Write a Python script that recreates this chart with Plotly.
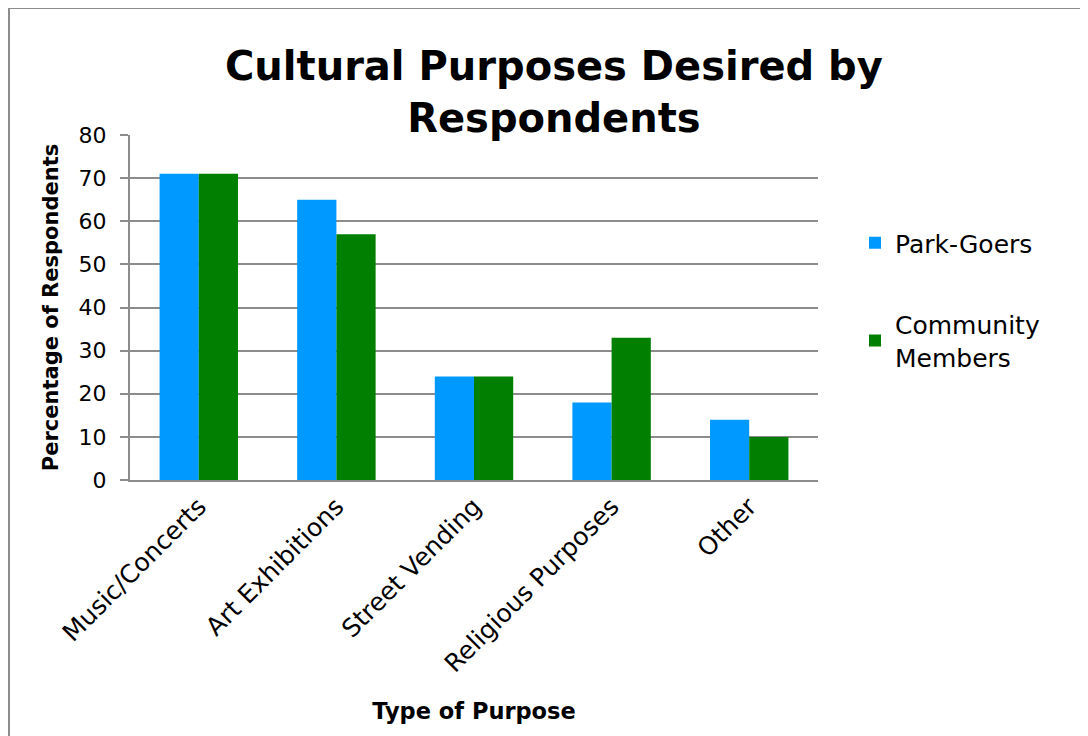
import plotly.graph_objects as go

categories = ["Music/Concerts", "Art Exhibitions", "Street Vending", "Religious Purposes", "Other"]
park_goers = [71, 65, 24, 18, 14]
community_members = [71, 57, 24, 33, 10]
y_ticks = [0, 10, 20, 30, 40, 50, 60, 70, 80]

FONT = "DejaVu Sans"
# the page body has an 8px margin, so the figure is sized to fit the 1088x736 window
W, H = 1080, 728
L, R, T, B = 122, 270, 127, 256
pw, ph = W - L - R, H - T - B

fig = go.Figure()
fig.add_trace(go.Bar(x=categories, y=park_goers, name="Park-Goers",
                     marker=dict(color="#0099FF", line=dict(width=0)), legendgroup="a"))
fig.add_trace(go.Bar(x=categories, y=community_members, name="Community<br>Members",
                     marker=dict(color="#007F00", line=dict(width=0)), legendgroup="b"))

def px_x(p):
    return (p - L) / pw

def px_y(p):
    return (H - B - p) / ph

fig.update_layout(
    width=W, height=H,
    margin=dict(l=L, r=R, t=T, b=B, autoexpand=False),
    paper_bgcolor="white", plot_bgcolor="white",
    barmode="group", bargap=0.43, bargroupgap=0,
    font=dict(family=FONT, color="#000000", size=20),
    legend=dict(x=px_x(847), y=px_y(212), xanchor="left", yanchor="top",
                font=dict(family=FONT, size=25, color="#000000"),
                tracegroupgap=46, bgcolor="rgba(0,0,0,0)"),
    xaxis=dict(showline=True, linecolor="#8C8C8C", linewidth=2, automargin=False,
               ticks="", tickangle=-45, tickfont=dict(size=25),
               title=dict(text="<b>Type of Purpose</b>", font=dict(size=22.5), standoff=26)),
    yaxis=dict(range=[0, 80], tickvals=y_ticks, showline=True, linecolor="#8C8C8C", linewidth=2,
               automargin=False,
               ticks="outside", ticklen=8, tickcolor="#8C8C8C", tickwidth=2,
               ticklabelstandoff=9,
               gridcolor="#8C8C8C", gridwidth=2, zeroline=False,
               tickfont=dict(size=22),
               title=dict(text="<b>Percentage of Respondents</b>", font=dict(size=21), standoff=14)),
    annotations=[dict(text="<b>Cultural Purposes Desired by<br>Respondents</b>",
                      xref="paper", yref="paper", x=px_x(546), y=px_y(84),
                      xanchor="center", yanchor="middle", showarrow=False,
                      font=dict(family=FONT, size=40, color="#000000"))],
    shapes=[dict(type="rect", xref="paper", yref="paper",
                 x0=px_x(1), x1=px_x(W + 20), y0=px_y(H + 20), y1=px_y(0),
                 line=dict(color="#8C8C8C", width=2), fillcolor="rgba(0,0,0,0)", layer="below")],
)

fig.write_html("out.html")
